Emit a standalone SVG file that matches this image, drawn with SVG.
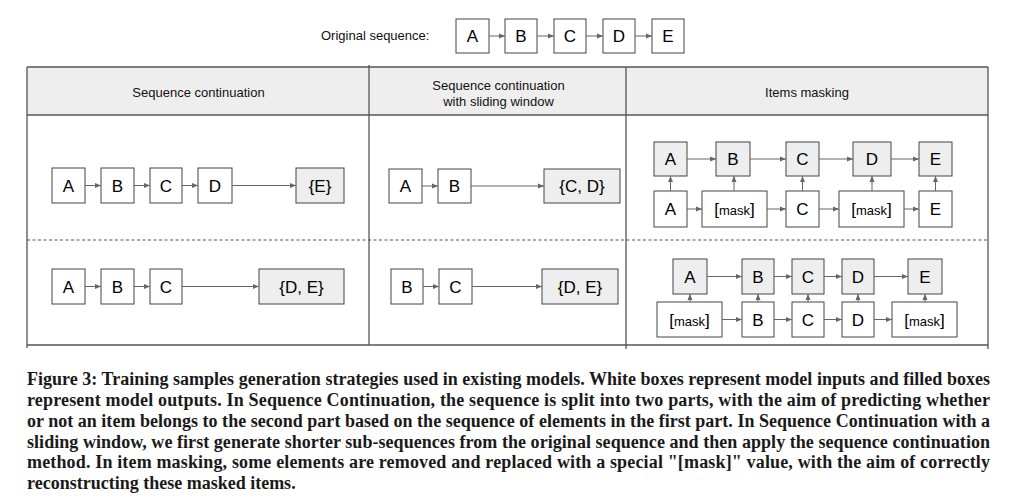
<svg xmlns="http://www.w3.org/2000/svg" width="1011" height="501" viewBox="0 0 1011 501">
<defs>
<marker id="ah" markerUnits="userSpaceOnUse" markerWidth="6" markerHeight="6" refX="6" refY="3" orient="auto">
<path d="M0,0.5 L6,3 L0,5.5 z" fill="#666"/>
</marker>
<style>
.box{fill:#fff;stroke:#444;stroke-width:1}
.out{fill:#eeeeee;stroke:#444;stroke-width:1}
.lt{font-family:"Liberation Sans",Arial,sans-serif;font-size:17px;fill:#000;text-anchor:middle}
.hd{font-family:"Liberation Sans",Arial,sans-serif;font-size:13px;fill:#111;text-anchor:middle}
.br{font-size:17px}
.mk{font-size:13px}
.ln{fill:none;stroke:#666;stroke-width:1}
.ar{fill:none;stroke:#666;stroke-width:1;marker-end:url(#ah)}
.tb{fill:none;stroke:#555;stroke-width:1.3}
.dash{fill:none;stroke:#555;stroke-width:1.2;stroke-dasharray:3,2.5}
.cap{font-family:"Liberation Serif","Times New Roman",serif;font-size:18px;font-weight:bold;fill:#1a1a1a}
</style>
</defs>
<rect width="1011" height="501" fill="#fff"/>

<!-- table -->
<g id="table">
<rect x="27" y="67" width="961" height="48" fill="#eeeeee"/>
<line class="tb" x1="27" y1="67" x2="988" y2="67"/>
<line class="tb" x1="27" y1="115" x2="988" y2="115"/>
<line class="tb" x1="27" y1="345" x2="988" y2="345"/>
<line class="tb" x1="27" y1="67" x2="27" y2="348"/>
<line class="tb" x1="369" y1="65" x2="369" y2="345"/>
<line class="tb" x1="626" y1="67" x2="626" y2="349"/>
<line class="tb" x1="988" y1="67" x2="988" y2="349"/>
<line class="dash" x1="27" y1="240" x2="988" y2="240"/>
<text class="hd" x="198.5" y="97">Sequence continuation</text>
<text class="hd" x="498.5" y="90">Sequence continuation</text>
<text class="hd" x="498.5" y="106">with sliding window</text>
<text class="hd" x="807" y="97">Items masking</text>
</g>

<text id="orig-label" x="321" y="40" font-family="Liberation Sans,Arial,sans-serif" font-size="13" fill="#111">Original sequence:</text>

<!-- original sequence -->
<g id="o-A"><rect class="box" x="456" y="19" width="33" height="34"/><text class="lt" x="472.5" y="42">A</text></g>
<g id="o-B"><rect class="box" x="505" y="19" width="32" height="34"/><text class="lt" x="521" y="42">B</text></g>
<g id="o-C"><rect class="box" x="554" y="19" width="32" height="34"/><text class="lt" x="570" y="42">C</text></g>
<g id="o-D"><rect class="box" x="603" y="19" width="32" height="34"/><text class="lt" x="619" y="42">D</text></g>
<g id="o-E"><rect class="box" x="652" y="19" width="32" height="34"/><text class="lt" x="668" y="42">E</text></g>

<!-- section 1 -->
<g id="s1a-A"><rect class="box" x="52" y="168" width="33" height="35"/><text class="lt" x="68.5" y="191.5">A</text></g>
<g id="s1a-B"><rect class="box" x="101" y="168" width="33" height="35"/><text class="lt" x="117.5" y="191.5">B</text></g>
<g id="s1a-C"><rect class="box" x="150" y="168" width="32" height="35"/><text class="lt" x="166" y="191.5">C</text></g>
<g id="s1a-D"><rect class="box" x="198" y="168" width="34" height="35"/><text class="lt" x="215" y="191.5">D</text></g>
<g id="s1a-E"><rect class="out" x="296" y="168" width="48" height="35"/><text class="lt" x="320" y="191.5">{E}</text></g>

<g id="s1b-A"><rect class="box" x="52" y="269" width="33" height="35"/><text class="lt" x="68.5" y="292.5">A</text></g>
<g id="s1b-B"><rect class="box" x="101" y="269" width="33" height="35"/><text class="lt" x="117.5" y="292.5">B</text></g>
<g id="s1b-C"><rect class="box" x="150" y="269" width="32" height="35"/><text class="lt" x="166" y="292.5">C</text></g>
<g id="s1b-DE"><rect class="out" x="259" y="269" width="85" height="35"/><text class="lt" x="301.5" y="292.5">{D, E}</text></g>

<!-- section 2 -->
<g id="s2a-A"><rect class="box" x="389" y="169" width="33" height="34"/><text class="lt" x="405.5" y="192">A</text></g>
<g id="s2a-B"><rect class="box" x="438" y="169" width="33" height="34"/><text class="lt" x="454.5" y="192">B</text></g>
<g id="s2a-CD"><rect class="out" x="544" y="169" width="76" height="34"/><text class="lt" x="582" y="192">{C, D}</text></g>

<g id="s2b-B"><rect class="box" x="391" y="269" width="32" height="35"/><text class="lt" x="407" y="292.5">B</text></g>
<g id="s2b-C"><rect class="box" x="439" y="269" width="33" height="35"/><text class="lt" x="455.5" y="292.5">C</text></g>
<g id="s2b-DE"><rect class="out" x="542" y="269" width="76" height="35"/><text class="lt" x="580" y="292.5">{D, E}</text></g>

<!-- section 3 row 1 -->
<g id="s3a-oA"><rect class="out" x="654" y="142" width="33" height="34"/><text class="lt" x="670.5" y="165">A</text></g>
<g id="s3a-oB"><rect class="out" x="716" y="142" width="34" height="34"/><text class="lt" x="733" y="165">B</text></g>
<g id="s3a-oC"><rect class="out" x="786" y="142" width="33" height="34"/><text class="lt" x="802.5" y="165">C</text></g>
<g id="s3a-oD"><rect class="out" x="853" y="142" width="38" height="34"/><text class="lt" x="872" y="165">D</text></g>
<g id="s3a-oE"><rect class="out" x="919" y="142" width="33" height="34"/><text class="lt" x="935.5" y="165">E</text></g>

<g id="s3a-iA"><rect class="box" x="654" y="191" width="33" height="36"/><text class="lt" x="670.5" y="215">A</text></g>
<g id="s3a-iM1"><rect class="box" x="702" y="191" width="65" height="36"/><text class="lt" x="734.5" y="215"><tspan class="br">[</tspan><tspan class="mk">mask</tspan><tspan class="br">]</tspan></text></g>
<g id="s3a-iC"><rect class="box" x="786" y="191" width="33" height="36"/><text class="lt" x="802.5" y="215">C</text></g>
<g id="s3a-iM2"><rect class="box" x="839" y="191" width="65" height="36"/><text class="lt" x="871.5" y="215"><tspan class="br">[</tspan><tspan class="mk">mask</tspan><tspan class="br">]</tspan></text></g>
<g id="s3a-iE"><rect class="box" x="919" y="191" width="33" height="36"/><text class="lt" x="935.5" y="215">E</text></g>

<!-- section 3 row 2 -->
<g id="s3b-oA"><rect class="out" x="673" y="259" width="34" height="35"/><text class="lt" x="690" y="282.5">A</text></g>
<g id="s3b-oB"><rect class="out" x="742" y="259" width="32" height="35"/><text class="lt" x="758" y="282.5">B</text></g>
<g id="s3b-oC"><rect class="out" x="792" y="259" width="32" height="35"/><text class="lt" x="808" y="282.5">C</text></g>
<g id="s3b-oD"><rect class="out" x="842" y="259" width="32" height="35"/><text class="lt" x="858" y="282.5">D</text></g>
<g id="s3b-oE"><rect class="out" x="908" y="259" width="34" height="35"/><text class="lt" x="925" y="282.5">E</text></g>

<g id="s3b-iM1"><rect class="box" x="657" y="302" width="65" height="35"/><text class="lt" x="689.5" y="325.5"><tspan class="br">[</tspan><tspan class="mk">mask</tspan><tspan class="br">]</tspan></text></g>
<g id="s3b-iB"><rect class="box" x="742" y="302" width="32" height="35"/><text class="lt" x="758" y="325.5">B</text></g>
<g id="s3b-iC"><rect class="box" x="792" y="302" width="32" height="35"/><text class="lt" x="808" y="325.5">C</text></g>
<g id="s3b-iD"><rect class="box" x="842" y="302" width="32" height="35"/><text class="lt" x="858" y="325.5">D</text></g>
<g id="s3b-iM2"><rect class="box" x="892" y="302" width="65" height="35"/><text class="lt" x="924.5" y="325.5"><tspan class="br">[</tspan><tspan class="mk">mask</tspan><tspan class="br">]</tspan></text></g>

<!-- connectors -->
<g id="connectors">
<line class="ar" x1="489" y1="36" x2="505" y2="36"/>
<line class="ar" x1="537" y1="36" x2="554" y2="36"/>
<line class="ar" x1="586" y1="36" x2="603" y2="36"/>
<line class="ar" x1="635" y1="36" x2="652" y2="36"/>

<line class="ar" x1="85" y1="185.5" x2="101" y2="185.5"/>
<line class="ar" x1="134" y1="185.5" x2="150" y2="185.5"/>
<line class="ar" x1="182" y1="185.5" x2="198" y2="185.5"/>
<line class="ar" x1="232" y1="185.5" x2="296" y2="185.5"/>

<line class="ar" x1="85" y1="286.5" x2="101" y2="286.5"/>
<line class="ar" x1="134" y1="286.5" x2="150" y2="286.5"/>
<line class="ar" x1="182" y1="286.5" x2="259" y2="286.5"/>

<line class="ar" x1="422" y1="186" x2="438" y2="186"/>
<line class="ar" x1="471" y1="186" x2="544" y2="186"/>

<line class="ar" x1="423" y1="286.5" x2="439" y2="286.5"/>
<line class="ar" x1="472" y1="286.5" x2="542" y2="286.5"/>

<line class="ar" x1="687" y1="159" x2="716" y2="159"/>
<line class="ar" x1="750" y1="159" x2="786" y2="159"/>
<line class="ar" x1="819" y1="159" x2="853" y2="159"/>
<line class="ar" x1="891" y1="159" x2="919" y2="159"/>

<line class="ar" x1="687" y1="209" x2="702" y2="209"/>
<line class="ar" x1="767" y1="209" x2="786" y2="209"/>
<line class="ar" x1="819" y1="209" x2="839" y2="209"/>
<line class="ar" x1="904" y1="209" x2="919" y2="209"/>

<line class="ar" x1="670.5" y1="191" x2="670.5" y2="176"/>
<line class="ar" x1="734" y1="191" x2="734" y2="176"/>
<line class="ar" x1="802.5" y1="191" x2="802.5" y2="176"/>
<line class="ar" x1="872" y1="191" x2="872" y2="176"/>
<line class="ar" x1="935.5" y1="191" x2="935.5" y2="176"/>

<line class="ar" x1="707" y1="276.5" x2="742" y2="276.5"/>
<line class="ar" x1="774" y1="276.5" x2="792" y2="276.5"/>
<line class="ar" x1="824" y1="276.5" x2="842" y2="276.5"/>
<line class="ar" x1="874" y1="276.5" x2="908" y2="276.5"/>

<line class="ar" x1="722" y1="319.5" x2="742" y2="319.5"/>
<line class="ar" x1="774" y1="319.5" x2="792" y2="319.5"/>
<line class="ar" x1="824" y1="319.5" x2="842" y2="319.5"/>
<line class="ar" x1="874" y1="319.5" x2="892" y2="319.5"/>

<line class="ar" x1="690" y1="302" x2="690" y2="294"/>
<line class="ar" x1="758" y1="302" x2="758" y2="294"/>
<line class="ar" x1="808" y1="302" x2="808" y2="294"/>
<line class="ar" x1="858" y1="302" x2="858" y2="294"/>
<line class="ar" x1="925" y1="302" x2="925" y2="294"/>
</g>

<!-- caption -->
<g id="caption">
<text class="cap" x="27" y="385" textLength="963" lengthAdjust="spacing">Figure 3: Training samples generation strategies used in existing models. White boxes represent model inputs and filled boxes</text>
<text class="cap" x="27" y="406" textLength="963" lengthAdjust="spacing">represent model outputs. In Sequence Continuation, the sequence is split into two parts, with the aim of predicting whether</text>
<text class="cap" x="27" y="427" textLength="963" lengthAdjust="spacing">or not an item belongs to the second part based on the sequence of elements in the first part. In Sequence Continuation with a</text>
<text class="cap" x="27" y="447.5" textLength="963" lengthAdjust="spacing">sliding window, we first generate shorter sub-sequences from the original sequence and then apply the sequence continuation</text>
<text class="cap" x="27" y="468" textLength="963" lengthAdjust="spacing">method. In item masking, some elements are removed and replaced with a special "[mask]" value, with the aim of correctly</text>
<text class="cap" x="27" y="488.5">reconstructing these masked items.</text>
</g>
</svg>
